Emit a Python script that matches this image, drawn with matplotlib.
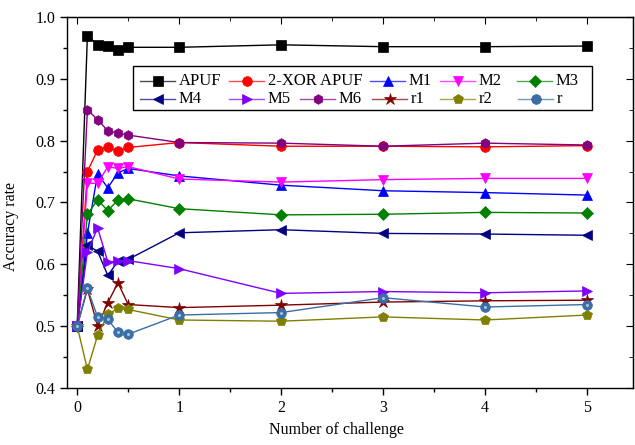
import numpy as np
import matplotlib
matplotlib.use('Agg')
import matplotlib.pyplot as plt
from matplotlib.ticker import MultipleLocator
from matplotlib.lines import Line2D
from matplotlib.patches import Rectangle

plt.rcParams['font.family'] = ['Liberation Serif', 'DejaVu Serif']

# number of challenge (x axis)
x = [0, 0.1, 0.2, 0.3, 0.4, 0.5, 1, 2, 3, 4, 5]

apuf = [0.50, 0.970, 0.955, 0.953, 0.947, 0.951, 0.951, 0.955, 0.952, 0.952, 0.953]
xor2 = [0.50, 0.750, 0.785, 0.790, 0.783, 0.789, 0.797, 0.791, 0.791, 0.790, 0.792]
m1 = [0.50, 0.650, 0.746, 0.724, 0.748, 0.755, 0.743, 0.728, 0.719, 0.716, 0.712]
m2 = [0.50, 0.731, 0.731, 0.758, 0.755, 0.758, 0.738, 0.733, 0.737, 0.739, 0.739]
m3 = [0.50, 0.681, 0.704, 0.687, 0.704, 0.706, 0.690, 0.680, 0.681, 0.684, 0.683]
m4 = [0.50, 0.631, 0.621, 0.582, 0.605, 0.608, 0.651, 0.656, 0.650, 0.649, 0.647]
m5 = [0.50, 0.620, 0.659, 0.604, 0.605, 0.606, 0.593, 0.553, 0.556, 0.554, 0.557]
m6 = [0.50, 0.850, 0.834, 0.816, 0.812, 0.809, 0.797, 0.796, 0.791, 0.796, 0.793]
r1 = [0.50, 0.560, 0.500, 0.538, 0.570, 0.535, 0.530, 0.534, 0.539, 0.541, 0.542]
r2 = [0.50, 0.430, 0.485, 0.519, 0.529, 0.527, 0.510, 0.508, 0.515, 0.510, 0.518]
r = [0.50, 0.561, 0.515, 0.511, 0.490, 0.487, 0.518, 0.522, 0.546, 0.531, 0.535]

series = [
    ('APUF', apuf, 'black', 's'),
    ('2-XOR APUF', xor2, 'red', 'o'),
    ('M1', m1, 'blue', '^'),
    ('M2', m2, 'magenta', 'v'),
    ('M3', m3, 'green', 'D'),
    ('M4', m4, 'navy', '<'),
    ('M5', m5, '#8000ff', '>'),
    ('M6', m6, 'purple', 'h'),
    ('r1', r1, '#800000', '*'),
    ('r2', r2, '#808000', 'p'),
    ('r', r, '#3a6ea5', 'o'),
]

# legend slots in pixels from the legend box's top-left corner (row, x offset)
legend_slots = [(0, 7), (0, 96), (0, 237), (0, 307), (0, 384),
                (1, 7), (1, 96), (1, 167), (1, 239), (1, 307), (1, 385)]


def marker_size(mk):
    if mk == '*':
        return 9
    if mk == 'D':
        return 6
    return 7


fig = plt.figure(figsize=(6.35, 4.45), dpi=100)
ax_l, ax_b, ax_w, ax_h = 67, 57, 566, 371   # axes box in pixels (from bottom-left)
ax = fig.add_axes([ax_l / 635, ax_b / 445, ax_w / 635, ax_h / 445])

for name, vals, col, mk in series:
    ax.plot(x, vals, color=col, marker=mk, markersize=marker_size(mk), linewidth=1.0,
            markeredgewidth=0.5, markeredgecolor=col, label=name)
    if name == 'r':
        # small highlight for the shaded sphere marker
        ax.plot(x, vals, linestyle='none', marker='o', markersize=2.2,
                color='#a9c4e0', markeredgewidth=0)

ax.set_xlim(-0.1, 5.45)
ax.set_ylim(0.4, 1.0)
ax.xaxis.set_major_locator(MultipleLocator(1))
ax.xaxis.set_minor_locator(MultipleLocator(0.5))
ax.yaxis.set_major_locator(MultipleLocator(0.1))
ax.yaxis.set_minor_locator(MultipleLocator(0.05))
ax.tick_params(which='major', direction='out', length=5, width=1, labelsize=11.5, colors='black')
ax.tick_params(which='minor', direction='out', length=3, width=1)
for s in ax.spines.values():
    s.set_linewidth(1.0)

top = ax.secondary_xaxis('top')
top.xaxis.set_major_locator(MultipleLocator(1))
top.xaxis.set_minor_locator(MultipleLocator(0.5))
top.tick_params(which='major', direction='in', length=5, labeltop=False)
top.tick_params(which='minor', direction='in', length=3)
right = ax.secondary_yaxis('right')
right.yaxis.set_major_locator(MultipleLocator(0.1))
right.yaxis.set_minor_locator(MultipleLocator(0.05))
right.tick_params(which='major', direction='in', length=5, labelright=False)
right.tick_params(which='minor', direction='in', length=3)

ax.set_xlabel('Number of challenge', fontsize=11.5)
ax.set_ylabel('Accuracy rate', fontsize=11.5)
ax.xaxis.set_label_coords((336 - ax_l) / ax_w, -34 / ax_h)
ax.yaxis.set_label_coords((19 - ax_l) / ax_w, 0.434)

# legend drawn by hand so that rows are laid out like the original (Origin style)
def to_ax(px, py):
    # pixel offsets from the legend box top-left -> axes fraction
    lx0, ly0 = 133, 66   # legend top-left in image pixels
    return ((lx0 + px - ax_l) / ax_w, (388 - (ly0 + py)) / ax_h)

x0, y0 = to_ax(0, 0)
x1, y1 = to_ax(459, 44)
ax.add_patch(Rectangle((x0, y1), x1 - x0, y0 - y1, transform=ax.transAxes,
                       facecolor='white', edgecolor='black', linewidth=1.0,
                       zorder=5, clip_on=False))
row_y = [15, 33]
for (name, vals, col, mk), (row, off) in zip(series, legend_slots):
    ha, yy = to_ax(off, row_y[row])
    hb, _ = to_ax(off + 35, row_y[row])
    hm, _ = to_ax(off + 17.5, row_y[row])
    ax.add_line(Line2D([ha, hb], [yy, yy], color=col, linewidth=1.0, alpha=0.7,
                       transform=ax.transAxes, zorder=6, clip_on=False))
    ax.add_line(Line2D([hm], [yy], color=col, marker=mk, markersize=marker_size(mk),
                       markeredgewidth=0.5, markeredgecolor=col,
                       transform=ax.transAxes, zorder=7, clip_on=False))
    tx, _ = to_ax(off + 39, row_y[row])
    ax.text(tx, yy, name, transform=ax.transAxes, fontsize=12, va='center',
            ha='left', zorder=7)

fig.savefig('out.png', dpi=100)
